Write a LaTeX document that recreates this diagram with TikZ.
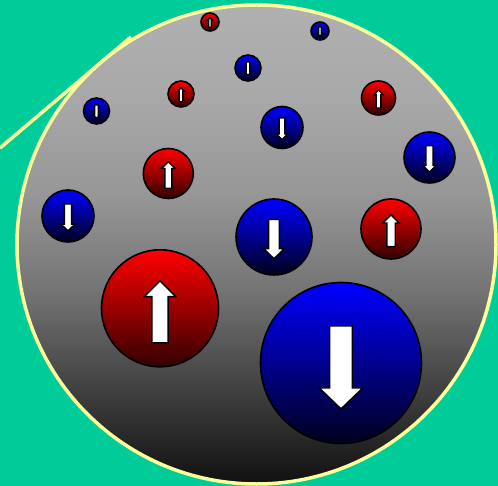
\documentclass[tikz,border=0pt]{standalone}
\usetikzlibrary{calc}

\definecolor{bggreen}{RGB}{0,204,153}
\definecolor{rimyellow}{RGB}{255,255,153}
\definecolor{ballA}{RGB}{176,176,176}
\definecolor{ballB}{RGB}{168,168,168}
\definecolor{ballC}{RGB}{150,150,150}
\definecolor{ballD}{RGB}{115,115,115}
\definecolor{ballE}{RGB}{65,65,65}
\definecolor{ballF}{RGB}{16,16,16}
\definecolor{redtop}{RGB}{255,0,0}
\definecolor{redbot}{RGB}{50,0,0}
\definecolor{bluetop}{RGB}{0,0,255}
\definecolor{bluebot}{RGB}{0,0,28}

% grey sphere shading: bounding box maps onto 25bp..75bp
\pgfdeclareverticalshading{sphere}{100bp}{%
  color(0bp)=(ballF); color(25bp)=(ballF); color(35bp)=(ballE);
  color(45bp)=(ballD); color(55bp)=(ballC); color(65bp)=(ballB);
  color(75bp)=(ballA); color(100bp)=(ballA)}

\tikzset{
  rim/.style={draw=rimyellow, line width=3.5pt},
  upball/.style={draw=black, line width=1.6pt, top color=redtop, bottom color=redbot},
  downball/.style={draw=black, line width=1.6pt, top color=bluetop, bottom color=bluebot},
  spinarrow/.style={fill=white, draw=black, line width=1.4pt, line join=miter},
}

% #1,#2 = centre (pixels, y downwards), #3 = radius
\newcommand{\spinup}[3]{%
  \path[upball] (#1,-#2) circle (#3);
  \path[spinarrow]
    ($(#1,-#2)+(-0.14*#3,-0.59*#3)$) -- ($(#1,-#2)+(0.14*#3,-0.59*#3)$)
    -- ($(#1,-#2)+(0.14*#3,0.20*#3)$) -- ($(#1,-#2)+(0.27*#3,0.20*#3)$)
    -- ($(#1,-#2)+(0,0.47*#3)$) -- ($(#1,-#2)+(-0.27*#3,0.20*#3)$)
    -- ($(#1,-#2)+(-0.14*#3,0.20*#3)$) -- cycle;}
\newcommand{\spindown}[3]{%
  \path[downball] (#1,-#2) circle (#3);
  \path[spinarrow]
    ($(#1,-#2)+(-0.14*#3,0.46*#3)$) -- ($(#1,-#2)+(0.14*#3,0.46*#3)$)
    -- ($(#1,-#2)+(0.14*#3,-0.31*#3)$) -- ($(#1,-#2)+(0.27*#3,-0.31*#3)$)
    -- ($(#1,-#2)+(0,-0.57*#3)$) -- ($(#1,-#2)+(-0.27*#3,-0.31*#3)$)
    -- ($(#1,-#2)+(-0.14*#3,-0.31*#3)$) -- cycle;}

\begin{document}
\begin{tikzpicture}[x=1pt,y=1pt]
  \useasboundingbox (0,0) rectangle (498,-486);
  \fill[bggreen] (0,0) rectangle (498,-486);

  % tangent line and grey sphere
  \coordinate (lineend) at (0,-148);
  \coordinate (linetip) at (131,-37);
  \draw[rim] (lineend) -- (linetip);
  \shade[shading=sphere] (256.5,-244.5) circle (239.5);
  \draw[rim] (256.5,-244.5) circle (239.5);

  % spins
  \spinup{210}{22}{9}
  \spindown{320}{31}{9}
  \spindown{248}{68}{13}
  \spinup{181}{94}{13}
  \spindown{96.5}{111}{13}
  \spinup{378.5}{98}{17}
  \spindown{282}{127.5}{21}
  \spindown{429.5}{157.5}{25.5}
  \spinup{168.3}{173.5}{25}
  \spindown{68}{216}{26}
  \spinup{391}{229}{30}
  \spindown{274}{237}{38}
  \spinup{160}{308.3}{58.5}
  \spindown{341}{363}{80.5}
\end{tikzpicture}
\end{document}
